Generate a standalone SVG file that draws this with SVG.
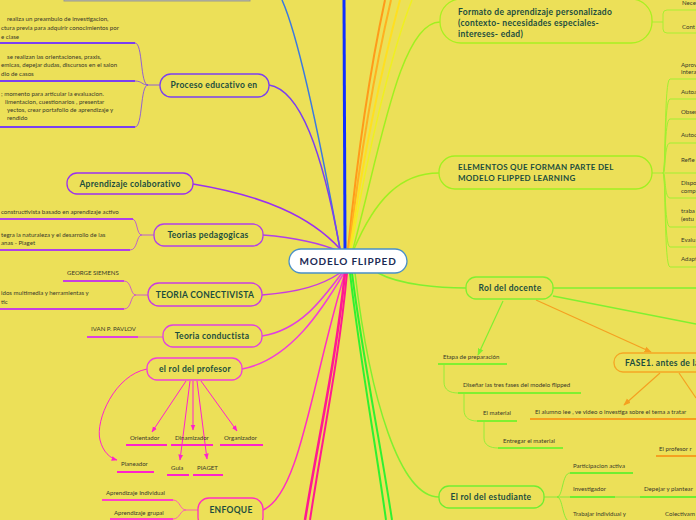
<svg xmlns="http://www.w3.org/2000/svg" width="696" height="520" viewBox="0 0 696 520">
<defs>
<style>
.bg{fill:#ece058}
.n{fill:#ece058;stroke-width:1.3}
.nt{font-family:Lato,"Liberation Sans",sans-serif;font-weight:bold;font-size:8.5px;fill:#1b4d3e;letter-spacing:0.3px}
.ct{font-family:Lato,"Liberation Sans",sans-serif;font-size:6.1px;fill:#3a3a2a}
.c{fill:none}
</style>
<marker id="ao" viewBox="0 0 10 10" refX="9" refY="5" markerWidth="6" markerHeight="6" orient="auto"><path d="M0,1 L10,5 L0,9 z" fill="#f5a020"/></marker>
<marker id="al" viewBox="0 0 10 10" refX="9" refY="5" markerWidth="6" markerHeight="6" orient="auto"><path d="M0,1 L10,5 L0,9 z" fill="#80f030"/></marker>
<marker id="am" viewBox="0 0 10 10" refX="9" refY="5" markerWidth="6" markerHeight="6" orient="auto"><path d="M0,1 L10,5 L0,9 z" fill="#ff22cc"/></marker>
</defs>
<rect class="bg" x="0" y="0" width="696" height="520"/>

<g id="connectors">
<!-- top -->
<path class="c" d="M340,249 C322,150 300,40 282,0" stroke="#3a7ae0" stroke-width="1.5"/>
<path class="c" d="M345,249 L344,0" stroke="#1030ff" stroke-width="3"/>
<path class="c" d="M348,249 C358,150 372,60 385,0" stroke="#ff9a1a" stroke-width="2"/>
<path class="c" d="M349,249 C361,150 377,60 391,0" stroke="#ffb020" stroke-width="2"/>
<path class="c" d="M350,249 C364,150 384,60 400,0" stroke="#ffe020" stroke-width="2"/>
<path class="c" d="M351,249 C368,150 392,50 412,0" stroke="#f0f020" stroke-width="1.5"/>
<path class="c" d="M353,249 C380,150 400,22 440,22" stroke="#a0f020" stroke-width="1.5"/>
<path class="c" d="M354,249 C375,200 400,173 439,173" stroke="#a0f020" stroke-width="1.5"/>
<!-- left -->
<path class="c" d="M269,85 C300,90 322,150 340,249" stroke="#7b3ff0" stroke-width="1.5"/>
<path class="c" d="M193,184 C260,195 310,215 341,250" stroke="#9a30f0" stroke-width="1.5"/>
<path class="c" d="M263,235 C300,238 325,245 341,252" stroke="#b040e8" stroke-width="1.5"/>
<path class="c" d="M262,295 C300,292 322,285 340,273" stroke="#c83ce0" stroke-width="1.5"/>
<path class="c" d="M262,336 C300,330 322,300 342,273" stroke="#e040e0" stroke-width="1.5"/>
<path class="c" d="M242,369 C290,360 322,310 344,273" stroke="#f040d8" stroke-width="1.5"/>
<path class="c" d="M263,510 C300,495 312,380 345,273" stroke="#ff30c0" stroke-width="1.5"/>
<path class="c" d="M345,273 C336,360 318,440 305,520" stroke="#ff1a90" stroke-width="2.5"/>
<path class="c" d="M347,273 C339,360 322,440 310,520" stroke="#ff1a90" stroke-width="2"/>
<!-- down/right -->
<path class="c" d="M350,273 C360,360 375,440 386,520" stroke="#30f030" stroke-width="2"/>
<path class="c" d="M352,273 C363,360 380,440 392,520" stroke="#30f030" stroke-width="2"/>
<path class="c" d="M355,273 C370,400 400,497 439,497" stroke="#80f030" stroke-width="1.5"/>
<path class="c" d="M378,273 C400,285 440,288 466,288" stroke="#80f030" stroke-width="1.5"/>
<path class="c" d="M553,288 L696,288" stroke="#80f030" stroke-width="1.5"/>
<path class="c" d="M553,296 L696,324" stroke="#80f030" stroke-width="1.5"/>
<path class="c" d="M536,300 L651,352" stroke="#f5a020" stroke-width="1.2" marker-end="url(#ao)"/>
<path class="c" d="M503,301 L478,355" stroke="#80f030" stroke-width="1.2" marker-end="url(#al)"/>
<path class="c" d="M660,373 L624,405" stroke="#f5a020" stroke-width="1.2" marker-end="url(#ao)"/>
<path class="c" d="M679,373 L696,398" stroke="#f5a020" stroke-width="1.2"/>

<!-- Proceso children -->
<g stroke="#7b3ff0" class="c">
<path d="M160,85 L148,85 C140,85 143,43 135,43" stroke-width="0.8"/>
<path d="M148,85 C142,85 142,81 135,81" stroke-width="0.8"/>
<path d="M148,85 C140,85 143,127 135,127" stroke-width="0.8"/>
<path d="M0,43 L135,43 M0,81 L135,81 M0,127 L135,127" stroke-width="2"/>
</g>
<!-- Teorias children -->
<g stroke="#b040e8" class="c">
<path d="M154,235 L142,235 C136,235 138,219 132,219 M142,235 C136,235 138,250 130,250" stroke-width="0.8"/>
<path d="M0,219 L133,219 M0,250 L130,250" stroke-width="2"/>
</g>
<!-- Conectivista children -->
<g stroke="#c840e0" class="c">
<path d="M148,295 L136,295 C130,295 132,281 124,281 M136,295 C130,295 132,309 124,309" stroke-width="0.8"/>
<path d="M63,281 L124,281 M0,309 L124,309" stroke-width="2"/>
</g>
<!-- Conductista child -->
<g stroke="#e040e0" class="c">
<path d="M138,337 L163,337" stroke-width="0.8"/>
<path d="M87,337 L138,337" stroke-width="2"/>
</g>
<!-- profesor arrows -->
<g stroke="#ff22cc" class="c" stroke-width="1">
<path d="M186,381 L152,432" marker-end="url(#am)"/>
<path d="M193,381 L193,430" marker-end="url(#am)"/>
<path d="M201,381 L237,431" marker-end="url(#am)"/>
<path d="M190,381 L180,460" marker-end="url(#am)"/>
<path d="M197,381 L207,459" marker-end="url(#am)"/>
<path d="M147,369 C115,375 95,420 100,440 C103,452 110,458 117,460" marker-end="url(#am)"/>
<path d="M126,445 L167,445 M171,445 L213,445 M220,445 L263,445 M117,472 L154,472 M167,475 L189,475 M193,475 L223,475" stroke-width="2"/>
</g>
<!-- ENFOQUE children -->
<g stroke="#ff40c8" class="c">
<path d="M198,510 L186,510 C180,510 180,500 173,500 M186,510 C180,510 180,519 173,519" stroke-width="0.8"/>
<path d="M102,500 L173,500 M110,519 L173,519" stroke-width="2"/>
</g>
<!-- Formato children -->
<g stroke="#a8f030" class="c" stroke-width="1">
<path d="M652,22 L663,22 M663,22 L663,14 Q663,10 667,10 L696,10 M663,22 L663,29 Q663,33 667,33 L696,33"/>
</g>
<!-- ELEMENTOS children -->
<g stroke="#a0f030" class="c" stroke-width="1">
<path d="M652,173 L663,173"/>
<path d="M663,173 C666,173 664,79 670,79 L696,79"/>
<path d="M663,173 C666,173 664,99 670,99 L696,99"/>
<path d="M663,173 C666,173 664,119 670,119 L696,119"/>
<path d="M663,173 C666,173 664,143 670,143 L696,143"/>
<path d="M663,173 L696,173"/>
<path d="M663,173 C666,173 664,198 670,198 L696,198"/>
<path d="M663,173 C666,173 664,227 670,227 L696,227"/>
<path d="M663,173 C666,173 664,247 670,247 L696,247"/>
<path d="M663,173 C666,173 664,267 670,267 L696,267"/>
</g>
<!-- Etapa chain -->
<g stroke="#80f030" class="c">
<path d="M444,364 L444,382 C444,390 450,393 458,393 M464,393 L464,410 C464,418 470,421 477,421 M484,421 L484,438 C484,445 490,448 498,448" stroke-width="0.8"/>
<path d="M438,364 L507,364 M458,393 L581,393 M477,421 L517,421 M498,448 L563,448" stroke-width="1.8"/>
</g>
<!-- orange underlines -->
<path class="c" d="M530,419 L696,419 M656,456 L696,456" stroke="#f5a020" stroke-width="1.8"/>
<!-- estudiante children -->
<g stroke="#70ee30" class="c">
<path d="M544,497 L557,497 C563,497 562,473 570,473 M557,497 L570,497 M557,497 C563,497 562,520 570,522 M615,497 L640,497" stroke-width="0.8"/>
<path d="M570,473 L633,473 M570,497 L615,497 M640,497 L696,497" stroke-width="1.8"/>
</g>
</g>

<g id="top-cut"><rect x="64" y="-12" width="186" height="13" fill="#b8b8a8" stroke="#9a9a90" stroke-width="1"/></g>

<g id="center"><rect x="289" y="249" width="118" height="24" rx="12" fill="#ffffff" stroke="#4a90c8" stroke-width="1.3"/><text x="348" y="264.5" text-anchor="middle" class="nt" style="font-size:10px;fill:#1a2a55;letter-spacing:0.8px">MODELO FLIPPED</text></g>

<g id="proceso"><rect class="n" x="160" y="74" width="109" height="23" rx="11" stroke="#7b3ff0"/><text x="214" y="88" text-anchor="middle" class="nt">Proceso educativo en</text></g>
<g id="proceso-items">
<text class="ct" x="7" y="21">realiza un preambulo de investigacion,</text>
<text class="ct" x="1" y="30">ctura previa para  adquirir conocimientos por</text>
<text class="ct" x="1" y="39">e clase</text>
<text class="ct" x="7" y="59">se realizan las orientaciones, praxis,</text>
<text class="ct" x="1" y="67">emicas, depejar dudas, discursos en el salon</text>
<text class="ct" x="1" y="76">dio de casos</text>
<text class="ct" x="1" y="96">; momento para articular la  evaluacion.</text>
<text class="ct" x="5" y="104">limentacion, cuestionarios , presentar</text>
<text class="ct" x="7" y="112">yectos, crear portafolio de aprendizaje y</text>
<text class="ct" x="7" y="120">rendido</text>
</g>

<g id="colaborativo"><rect class="n" x="67" y="173" width="126" height="21" rx="10" stroke="#9a30f0"/><text x="130" y="187" text-anchor="middle" class="nt">Aprendizaje colaborativo</text></g>

<g id="teorias"><rect class="n" x="154" y="224" width="109" height="22" rx="10" stroke="#b040e8"/><text x="208" y="238" text-anchor="middle" class="nt">Teorias pedagogicas</text></g>
<g id="teorias-items">
<text class="ct" x="1" y="214">constructivista basado en aprendizaje activo</text>
<text class="ct" x="1" y="237">tegra la naturaleza y el desarrollo de las</text>
<text class="ct" x="1" y="245">anas - Piaget</text>
</g>

<g id="conectivista"><rect class="n" x="148" y="283" width="114" height="23" rx="11" stroke="#c83ce0"/><text x="205" y="298" text-anchor="middle" class="nt">TEORIA CONECTIVISTA</text></g>
<g id="conectivista-items">
<text class="ct" x="67" y="275">GEORGE SIEMENS</text>
<text class="ct" x="1" y="295">idos multimedia y herramientas y</text>
<text class="ct" x="1" y="304">tic</text>
</g>

<g id="conductista"><rect class="n" x="163" y="325" width="99" height="22" rx="10" stroke="#e040e0"/><text x="212" y="339" text-anchor="middle" class="nt">Teoria conductista</text></g>
<g id="pavlov"><text class="ct" x="91" y="331">IVAN P. PAVLOV</text></g>

<g id="profesor"><rect class="n" x="147" y="358" width="95" height="22" rx="10" stroke="#f040d8"/><text x="195" y="372" text-anchor="middle" class="nt">el rol del profesor</text></g>
<g id="profesor-items">
<text class="ct" x="130" y="440">Orientador</text>
<text class="ct" x="175" y="440">Dinamizador</text>
<text class="ct" x="224" y="440">Organizador</text>
<text class="ct" x="121" y="466">Planeador</text>
<text class="ct" x="171" y="470">Guia</text>
<text class="ct" x="197" y="470">PIAGET</text>
</g>

<g id="enfoque"><rect class="n" x="198" y="498" width="65" height="30" rx="11" stroke="#ff30c0"/><text x="231" y="513" text-anchor="middle" class="nt">ENFOQUE</text></g>
<g id="enfoque-items">
<text class="ct" x="106" y="495">Aprendizaje Individual</text>
<text class="ct" x="114" y="515">Aprendizaje  grupal</text>
</g>

<g id="formato"><rect class="n" x="440" y="-1" width="212" height="44" rx="21" stroke="#a8f020"/>
<text class="nt" x="458" y="15">Formato de aprendizaje personalizado</text>
<text class="nt" x="458" y="26">(contexto- necesidades especiales-</text>
<text class="nt" x="458" y="37">intereses- edad)</text></g>
<g id="formato-items">
<text class="ct" x="682" y="5">Nece</text>
<text class="ct" x="682" y="29">Cont</text>
</g>

<g id="elementos"><rect class="n" x="439" y="156" width="213" height="33" rx="16" stroke="#a0f020"/>
<text class="nt" x="458" y="170" style="font-size:8px">ELEMENTOS QUE  FORMAN PARTE DEL</text>
<text class="nt" x="458" y="181" style="font-size:8px">MODELO FLIPPED LEARNING</text></g>
<g id="elementos-items">
<text class="ct" x="681" y="67">Aprov</text>
<text class="ct" x="681" y="74">intera</text>
<text class="ct" x="681" y="94">Autoa</text>
<text class="ct" x="681" y="114">Obser</text>
<text class="ct" x="681" y="137">Autoc</text>
<text class="ct" x="681" y="162">Refle</text>
<text class="ct" x="681" y="185">Dispo</text>
<text class="ct" x="681" y="193">comp</text>
<text class="ct" x="681" y="213">traba</text>
<text class="ct" x="681" y="221">(estu</text>
<text class="ct" x="681" y="242">Evalu</text>
<text class="ct" x="681" y="261">Adapt</text>
</g>

<g id="docente"><rect class="n" x="466" y="277" width="87" height="22" rx="10" stroke="#80f030"/><text x="510" y="291" text-anchor="middle" class="nt">Rol del docente</text></g>
<g id="docente-items">
<text class="ct" x="443" y="359">Etapa de preparación</text>
<text class="ct" x="463" y="387">Diseñar las tres fases del modelo flipped</text>
<text class="ct" x="483" y="415">El material</text>
<text class="ct" x="503" y="443">Entregar el material</text>
</g>

<g id="fase1"><rect class="n" x="614" y="353" width="120" height="19" rx="9" stroke="#f5a623"/><text x="625" y="366" class="nt">FASE1. antes de la</text></g>
<g id="fase1-items">
<text class="ct" x="535" y="414">El alumno lee , ve video o investiga sobre el tema a tratar</text>
<text class="ct" x="659" y="451">El profesor  r</text>
</g>

<g id="estudiante"><rect class="n" x="439" y="486" width="105" height="22" rx="10" stroke="#70ee30"/><text x="491" y="500" text-anchor="middle" class="nt">El rol del estudiante</text></g>
<g id="estudiante-items">
<text class="ct" x="573" y="468">Participacion activa</text>
<text class="ct" x="573" y="491">Investigador</text>
<text class="ct" x="644" y="491">Depejar y plantear</text>
<text class="ct" x="573" y="516">Trabajar individual y</text>
<text class="ct" x="665" y="516">Colectivam</text>
</g>
</svg>
